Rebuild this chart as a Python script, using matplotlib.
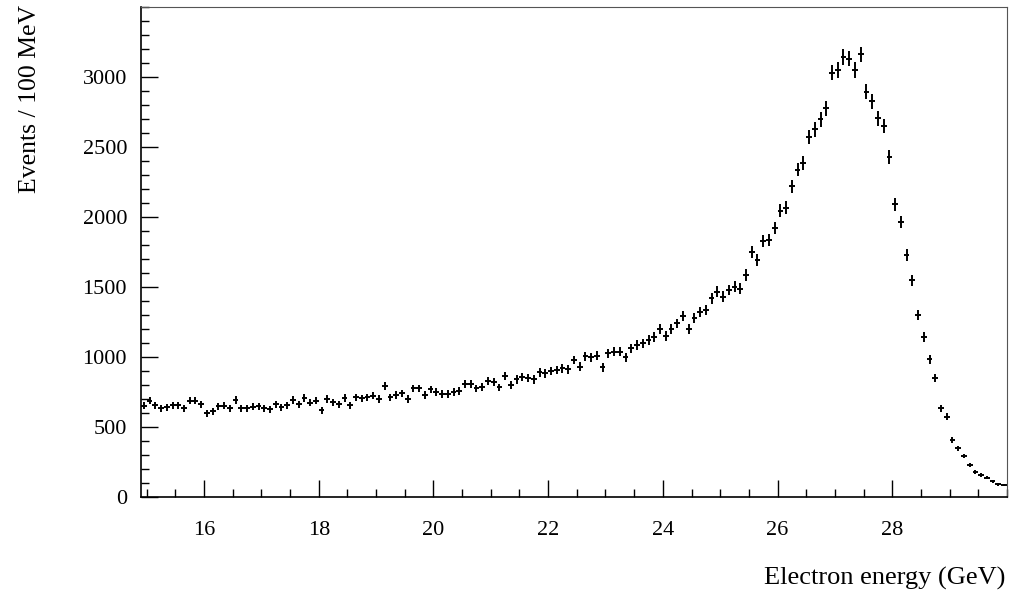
import numpy as np
import matplotlib
matplotlib.use("Agg")
import matplotlib.pyplot as plt
from matplotlib.ticker import MultipleLocator, FixedLocator

# Bin centres: 0.1 GeV bins from 14.9 to 30.0 GeV
bin_lo = 14.9
bin_width = 0.1

events = [
    # 14.95 .. 17.95
    652, 688, 657, 633, 641, 655, 657, 633, 688, 688,
    662, 598, 614, 648, 652, 633, 693, 633, 633, 645,
    650, 633, 629, 662, 641, 655, 693, 662, 709, 674,
    688,
    # 18.05 .. 20.95
    621, 700, 676, 664, 709, 657, 712, 705, 712, 724,
    700, 795, 712, 729, 740, 700, 776, 776, 729, 769,
    752, 736, 736, 752, 760, 805, 805, 776, 788, 831,
    # 21.05 .. 24.05
    824, 783, 864, 800, 840, 860, 848, 840, 890, 883,
    900, 907, 919, 912, 979, 931, 1007, 998, 1010, 926,
    1026, 1038, 1038, 998, 1062, 1086, 1098, 1121, 1145, 1200,
    1150,
    # 24.15 .. 27.05
    1200, 1240, 1295, 1200, 1276, 1324, 1336, 1419, 1467, 1431,
    1479, 1502, 1490, 1586, 1752, 1693, 1831, 1836, 1924, 2045,
    2067, 2221, 2340, 2388, 2574, 2626, 2698, 2776, 3033, 3050,
    # 27.15 .. 29.95
    3145, 3133, 3050, 3162, 2895, 2829, 2705, 2650, 2431, 2093,
    1967, 1729, 1550, 1300, 1145, 983, 848, 633, 574, 407,
    348, 293, 231, 181, 157, 138, 114, 90, 86,
]

x_ticks = [16, 18, 20, 22, 24, 26, 28]
y_ticks = [0, 500, 1000, 1500, 2000, 2500, 3000]

events = np.array(events, dtype=float)
energy = bin_lo + bin_width * (np.arange(len(events)) + 0.5)
yerr = np.sqrt(events)

plt.rcParams['font.family'] = ['Liberation Serif', 'DejaVu Serif']

fig = plt.figure(figsize=(10.12, 5.96), dpi=100)
ax = fig.add_axes([0.1393, 0.166, 0.8557, 0.822])

ax.errorbar(energy, events, xerr=bin_width / 2, yerr=yerr, fmt='none',
            ecolor='black', elinewidth=1.4, capsize=0)

ax.set_xlim(14.9, 30.0)
ax.set_ylim(0, 3500)

ax.xaxis.set_major_locator(FixedLocator(x_ticks))
ax.xaxis.set_minor_locator(MultipleLocator(0.5))
ax.yaxis.set_major_locator(FixedLocator(y_ticks))
ax.yaxis.set_minor_locator(MultipleLocator(100))

ax.tick_params(which='both', direction='in', top=False, right=False,
               colors='black', labelsize=16)
ax.tick_params(which='major', length=12, width=1.0)
ax.tick_params(which='minor', length=6, width=1.0)
ax.tick_params(axis='x', which='major', pad=17)
ax.tick_params(axis='y', which='major', pad=10)

for s in ['left', 'bottom']:
    ax.spines[s].set_linewidth(1.2)
for s in ['top', 'right']:
    ax.spines[s].set_linewidth(0.8)
    ax.spines[s].set_color('#555555')

fig.text(0.030, 0.992, 'Events / 100 MeV', rotation=90, ha='center', va='top',
         fontsize=18.5)
fig.text(0.993, 0.030, 'Electron energy (GeV)', ha='right', va='center',
         fontsize=19)

fig.savefig('out.png', dpi=100)
